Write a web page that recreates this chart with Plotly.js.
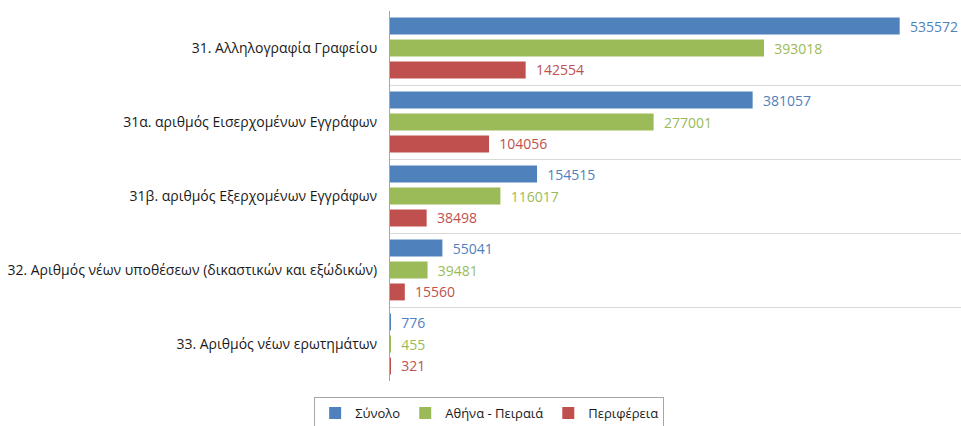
<!DOCTYPE html>
<html>
<head>
<meta charset="utf-8">
<script src="https://cdn.plot.ly/plotly-3.0.1.min.js"></script>
<style>
  html, body { margin: 0; padding: 0; background: #fff; }
  #myDiv { width: 961px; height: 426px; }
</style>
</head>
<body>
<div id="myDiv"></div>
<script>
// categories, top to bottom
var categories = [
  '31. Αλληλογραφία Γραφείου',
  '31α. αριθμός Εισερχομένων Εγγράφων',
  '31β. αριθμός Εξερχομένων Εγγράφων',
  '32. Αριθμός νέων υποθέσεων (δικαστικών και εξώδικών)',
  '33. Αριθμός νέων ερωτημάτων'
];
var synolo = [535572, 381057, 154515, 55041, 776];
var athina = [393018, 277001, 116017, 39481, 455];
var periferia = [142554, 104056, 38498, 15560, 321];

function barTrace(vals, name, color) {
  return {
    type: 'bar',
    orientation: 'h',
    y: categories,
    x: vals,
    name: name,
    marker: { color: color },
    text: vals.map(String),
    // non-breaking spaces push the value label away from the bar end
    texttemplate: '\u00a0\u00a0%{text}',
    textposition: 'outside',
    constraintext: 'none',
    textfont: { color: color, size: 14, family: 'Open Sans, sans-serif' },
    cliponaxis: false,
    hoverinfo: 'x+name'
  };
}

var data = [
  barTrace(synolo, 'Σύνολο', '#4f81bd'),
  barTrace(athina, 'Αθήνα - Πειραιά', '#9bbb59'),
  barTrace(periferia, 'Περιφέρεια', '#c0504d')
];

var layout = {
  width: 961,
  height: 426,
  barmode: 'group',
  bargap: 0.11,
  bargroupgap: 0.23,
  font: { family: 'Open Sans, sans-serif', size: 12, color: '#222' },
  margin: { l: 390, r: 0, t: 11, b: 45, pad: 0, autoexpand: false },
  paper_bgcolor: '#fff',
  plot_bgcolor: '#fff',
  xaxis: {
    range: [0, 600000],
    showgrid: false,
    zeroline: false,
    showticklabels: false,
    showline: false
  },
  yaxis: {
    autorange: 'reversed',
    tickson: 'boundaries',
    ticks: '',
    showgrid: true,
    gridcolor: '#d9d9d9',
    gridwidth: 1,
    showline: true,
    linecolor: '#a6a6a6',
    linewidth: 1,
    ticklabelstandoff: 9,
    tickfont: { size: 14, color: '#1a1a1a' }
  },
  showlegend: true,
  legend: {
    orientation: 'h',
    xref: 'container',
    yref: 'container',
    xanchor: 'center',
    yanchor: 'top',
    x: 0.509,
    y: 0.068,
    bordercolor: '#a6a6a6',
    borderwidth: 1,
    font: { size: 13, color: '#1a1a1a' },
    itemwidth: 30,
    tracegroupgap: 0
  }
};

Plotly.newPlot('myDiv', data, layout, { displayModeBar: false });
</script>
</body>
</html>
